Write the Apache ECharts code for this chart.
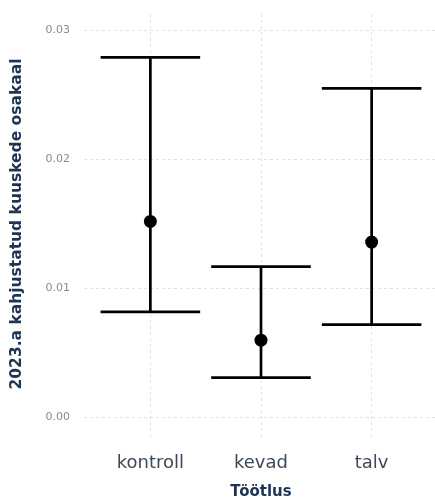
<!DOCTYPE html>
<html>
<head>
<meta charset="utf-8">
<script src="https://cdn.jsdelivr.net/npm/echarts@6/dist/echarts.min.js"></script>
<style>
html,body{margin:0;padding:0;background:#fff;}
#chart{width:435px;height:500px;}
</style>
</head>
<body>
<div id="chart"></div>
<script>
// ---- data ----
var categories = ['kontroll', 'kevad', 'talv'];
var meanValues = [0.0152, 0.0060, 0.0136];
var lowerValues = [0.0082, 0.0031, 0.0072];
var upperValues = [0.0279, 0.0117, 0.0255];
var yTicks = [0.00, 0.01, 0.02, 0.03];
var xTitle = 'Töötlus';
var yTitle = '2023.a kahjustatud kuuskede osakaal';

var catIdx = categories.map(function (c, i) { return i; });
var errData = categories.map(function (c, i) { return [i, lowerValues[i], upperValues[i]]; });
var ptData = categories.map(function (c, i) { return [i, meanValues[i]]; });

var gridStyle = { type: [3, 3], color: '#e2e2e2', width: 1 };
var markData = yTicks.map(function (v) { return { yAxis: v }; })
  .concat(catIdx.map(function (i) { return { xAxis: i }; }));

var chart = echarts.init(document.getElementById('chart'));
chart.setOption({
  animation: false,
  backgroundColor: '#ffffff',
  grid: { left: 84, top: 11, width: 354, height: 426, containLabel: false, outerBoundsMode: 'none' },
  xAxis: {
    type: 'value', min: -0.6, max: 2.6,
    name: xTitle, nameLocation: 'middle', nameGap: 48,
    nameTextStyle: { fontFamily: 'DejaVu Sans', fontWeight: 'bold', fontSize: 15, color: '#1d3553' },
    axisLine: { show: false }, axisTick: { show: false }, splitLine: { show: false },
    axisLabel: {
      customValues: catIdx,
      formatter: function (v) { return categories[Math.round(v)]; },
      fontFamily: 'DejaVu Sans', fontSize: 18, color: '#3d4957', margin: 17
    }
  },
  yAxis: {
    type: 'value', min: -0.0015, max: 0.0315,
    name: yTitle, nameLocation: 'middle', nameGap: 59, nameRotate: 90,
    nameTextStyle: { fontFamily: 'DejaVu Sans', fontWeight: 'bold', fontSize: 15.5, color: '#1d3553' },
    axisLine: { show: false }, axisTick: { show: false }, splitLine: { show: false },
    axisLabel: {
      customValues: yTicks,
      formatter: function (v) { return v.toFixed(2); },
      fontFamily: 'DejaVu Sans', fontSize: 11, color: '#7f8c99', margin: 14
    }
  },
  series: [
    {
      type: 'line', data: [], silent: true, z: 1,
      markLine: {
        silent: true, symbol: 'none', animation: false,
        label: { show: false },
        lineStyle: gridStyle,
        emphasis: { disabled: true },
        data: markData
      }
    },
    {
      type: 'custom', z: 5, silent: true,
      data: errData,
      encode: { x: 0, y: [1, 2] },
      renderItem: function (params, api) {
        var x = api.value(0);
        var lo = api.coord([x, api.value(1)]);
        var hi = api.coord([x, api.value(2)]);
        var l = api.coord([x - 0.45, api.value(1)]);
        var r = api.coord([x + 0.45, api.value(1)]);
        var half = (r[0] - l[0]) / 2;
        var st = { stroke: '#000', lineWidth: 2.7, fill: null };
        return {
          type: 'group',
          children: [
            { type: 'line', shape: { x1: lo[0], y1: lo[1], x2: hi[0], y2: hi[1] }, style: st },
            { type: 'line', shape: { x1: lo[0] - half, y1: lo[1], x2: lo[0] + half, y2: lo[1] }, style: st },
            { type: 'line', shape: { x1: hi[0] - half, y1: hi[1], x2: hi[0] + half, y2: hi[1] }, style: st }
          ]
        };
      }
    },
    {
      type: 'scatter', z: 6, silent: true,
      data: ptData, symbol: 'circle', symbolSize: 13,
      itemStyle: { color: '#000', opacity: 1 }
    }
  ]
});
</script>
</body>
</html>
